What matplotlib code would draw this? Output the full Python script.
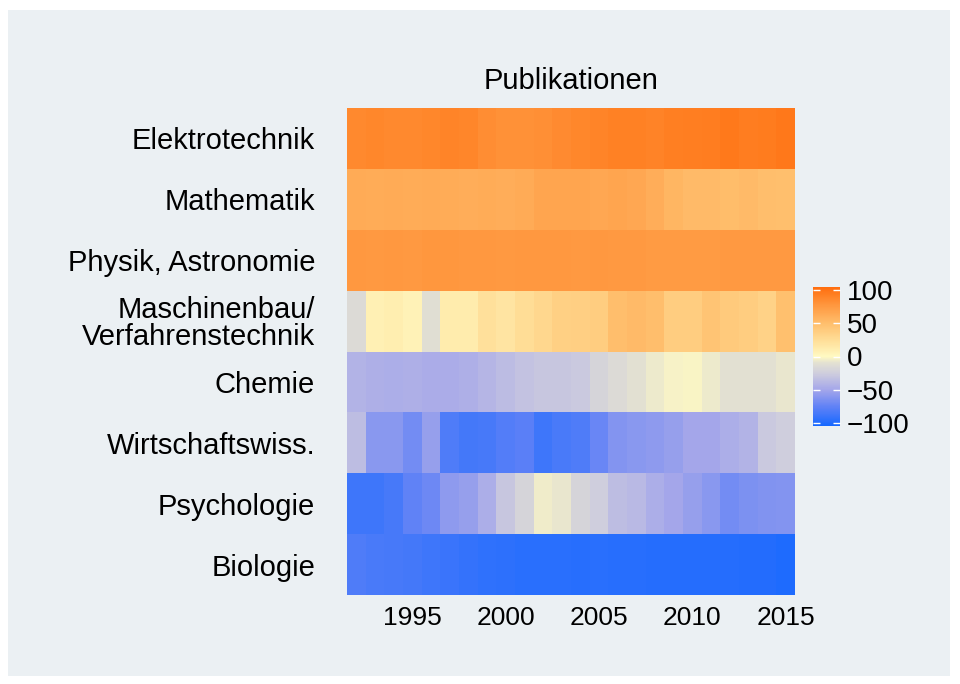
import numpy as np
import matplotlib
matplotlib.use("Agg")
import matplotlib.pyplot as plt
from matplotlib.colors import LinearSegmentedColormap, Normalize
from matplotlib.patches import Rectangle

plt.rcParams['font.family'] = ['Liberation Sans', 'DejaVu Sans']

years = list(range(1992, 2016))
categories = ["Elektrotechnik", "Mathematik", "Physik, Astronomie",
              "Maschinenbau/\nVerfahrenstechnik", "Chemie", "Wirtschaftswiss.",
              "Psychologie", "Biologie"]

elektrotechnik = [86, 87, 86, 86, 87, 89, 88, 83, 81, 81, 82, 85, 87, 89, 91, 91, 90, 92, 93, 94, 96, 94, 95, 97]
mathematik = [63, 62, 63, 62, 63, 62, 61, 62, 61, 63, 67, 67, 67, 65, 67, 65, 61, 56, 52, 52, 51, 52, 50, 49]
physik = [76, 75, 76, 75, 77, 77, 76, 76, 75, 76, 76, 76, 75, 76, 75, 75, 74, 74, 74, 74, 75, 75, 75, 75]
maschinenbau = [-15, 8, 10, 6, -12, 12, 12, 22, 18, 25, 30, 35, 36, 38, 50, 52, 50, 38, 38, 45, 40, 38, 34, 48]
chemie = [-42, -44, -45, -44, -46, -46, -44, -40, -36, -32, -30, -30, -28, -20, -15, -10, -6, -3, -2, -6, -10, -10, -10, -8]
wirtschaft = [-35, -60, -60, -68, -55, -82, -86, -85, -80, -78, -88, -84, -82, -72, -62, -60, -58, -55, -50, -50, -45, -42, -28, -25]
psychologie = [-88, -88, -85, -75, -70, -58, -55, -45, -30, -20, -5, -8, -20, -25, -35, -38, -45, -50, -55, -60, -68, -65, -63, -62]
biologie = [-82, -84, -85, -86, -88, -90, -92, -94, -95, -96, -96, -96, -97, -96, -97, -97, -98, -98, -98, -98, -98, -99, -99, -100]

values = np.array([elektrotechnik, mathematik, physik, maschinenbau,
                   chemie, wirtschaft, psychologie, biologie], dtype=float)

cbar_ticks = [100, 50, 0, -50, -100]
xticks = [1995, 2000, 2005, 2010, 2015]

vmin, vmax = -104, 104
nodes = [(-104, "#1668FF"), (-75, "#6182F6"), (-50, "#A4A6EA"), (-25, "#CFCEDD"),
         (-10, "#E2E0D2"), (0, "#FFF9C2"), (25, "#FFDD96"), (50, "#FFBE6C"),
         (75, "#FF9A42"), (104, "#FF6E0E")]
cmap = LinearSegmentedColormap.from_list(
    "pub", [((v - vmin) / (vmax - vmin), c) for v, c in nodes])
norm = Normalize(vmin=vmin, vmax=vmax)

W, H = 960, 684
fig = plt.figure(figsize=(W / 100, H / 100), dpi=100, facecolor="white")
bg = "#EBF0F3"
fig.patches.append(Rectangle((8 / W, 8 / H), 942 / W, 666 / H, transform=fig.transFigure,
                             facecolor=bg, edgecolor="none", zorder=-10))

ax = fig.add_axes([347 / W, (H - 595) / H, 448 / W, 487 / H])
ax.set_facecolor(bg)
xedges = np.arange(years[0] - 0.5, years[-1] + 1.5, 1)
yedges = np.arange(len(categories) + 1)
ax.pcolormesh(xedges, yedges, values, cmap=cmap, norm=norm, edgecolors="none")
ax.set_ylim(len(categories), 0)
ax.set_xlim(xedges[0], xedges[-1])
ax.set_yticks(np.arange(len(categories)) + 0.5)
ax.set_yticklabels(categories, fontsize=21, linespacing=0.95)
ax.set_xticks(xticks)
ax.set_xticklabels([str(x) for x in xticks], fontsize=19)
ax.tick_params(axis="y", length=0, pad=23)
ax.tick_params(axis="x", length=0, pad=8)
for s in ax.spines.values():
    s.set_visible(False)
ax.set_title("Publikationen", fontsize=21, pad=14)

cax = fig.add_axes([813 / W, (H - 426) / H, 27 / W, 139 / H])
sm = matplotlib.cm.ScalarMappable(norm=norm, cmap=cmap)
cb = fig.colorbar(sm, cax=cax, ticks=cbar_ticks)
cb.outline.set_visible(False)
cb.ax.set_yticklabels(["100", "50", "0", "\u2212" + "50", "\u2212" + "100"], fontsize=20)
cb.ax.yaxis.set_ticks_position("both")
cb.ax.yaxis.set_label_position("right")
cb.ax.tick_params(axis="y", direction="in", length=5, width=1, color="white",
                  labelleft=False, labelright=True, pad=5)

fig.savefig("out.png", dpi=100, facecolor="white")
